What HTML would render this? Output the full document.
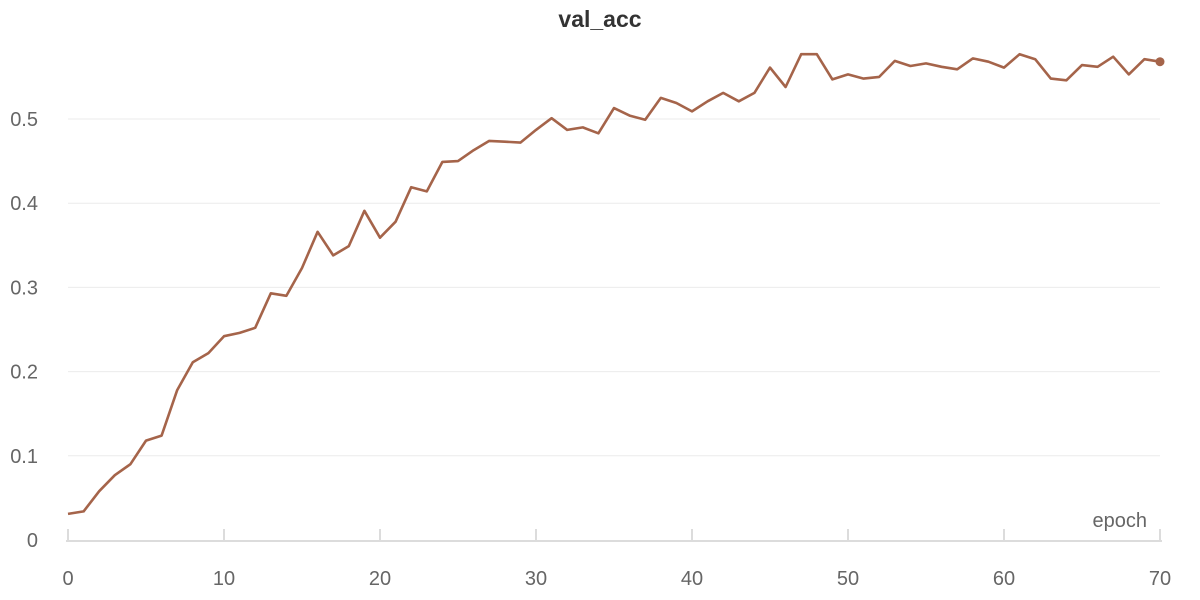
<!DOCTYPE html>
<html><head><meta charset="utf-8"><style>
body{margin:0;background:#fff;}
svg{display:block;font-family:"Liberation Sans",Arial,sans-serif;}
</style></head><body>
<svg id="chart" width="1200" height="600">
<text x="600" y="27" text-anchor="middle" font-size="23" font-weight="bold" fill="#333">val_acc</text>
<g id="grid"></g>
<g id="yaxis"></g>
<g id="xaxis"></g>
<text x="1147" y="527" text-anchor="end" font-size="20" fill="#666">epoch</text>
<g id="series"></g>
</svg>
<script>
const valAcc=[0.031,0.034,0.058,0.077,0.09,0.118,0.124,0.178,0.211,0.222,0.242,0.246,0.252,0.293,0.29,0.323,0.366,0.338,0.349,0.391,0.359,0.378,0.419,0.414,0.449,0.45,0.463,0.474,0.473,0.472,0.487,0.501,0.487,0.49,0.483,0.513,0.504,0.499,0.525,0.519,0.509,0.521,0.531,0.521,0.531,0.561,0.538,0.577,0.577,0.547,0.553,0.548,0.55,0.569,0.563,0.566,0.562,0.559,0.572,0.568,0.561,0.577,0.571,0.548,0.546,0.564,0.562,0.574,0.553,0.571,0.568];
const yTicks=[0,0.1,0.2,0.3,0.4,0.5];
const yTickLabels=["0","0.1","0.2","0.3","0.4","0.5"];
const xTicks=[0,10,20,30,40,50,60,70];
const NS="http://www.w3.org/2000/svg";
const X0=68,X1=1160,Y0=540,YPER=842;
const xs=v=>X0+(X1-X0)*v/70;
const ys=v=>Y0-YPER*v;
function mk(tag,attrs,parent){const e=document.createElementNS(NS,tag);for(const k in attrs)e.setAttribute(k,attrs[k]);parent.appendChild(e);return e;}
const grid=document.getElementById('grid'),ya=document.getElementById('yaxis'),xa=document.getElementById('xaxis'),se=document.getElementById('series');
yTicks.forEach((t,i)=>{
 if(t>0){const l=mk('line',{x1:X0,x2:X1,y1:ys(t),y2:ys(t),stroke:'#ebebeb','stroke-width':1},grid);
 
 }
 const tx=mk('text',{x:38,y:ys(t)+7,'text-anchor':'end','font-size':20,fill:'#666'},ya);
 tx.textContent=yTickLabels[i];
 
 
});
const ax=mk('line',{x1:X0-2,x2:X1+2,y1:Y0+1,y2:Y0+1,stroke:'#dcdcdc','stroke-width':2},xa);


xTicks.forEach(t=>{
 const tk=mk('line',{x1:xs(t),x2:xs(t),y1:Y0-11,y2:Y0,stroke:'#dcdcdc','stroke-width':2},xa);
 
 
 const tx=mk('text',{x:xs(t),y:585,'text-anchor':'middle','font-size':20,fill:'#666'},xa);
 tx.textContent=String(t);
 
 
});
const pts=valAcc.map((v,i)=>xs(i).toFixed(1)+','+ys(v).toFixed(1)).join(' ');
const pl=mk('polyline',{points:pts,fill:'none',stroke:'#a5644a','stroke-width':2.6,'stroke-linejoin':'round'},se);


const last=valAcc.length-1;
const dot=mk('circle',{cx:xs(last),cy:ys(valAcc[last]),r:4.5,fill:'#a5644a'},se);


</script>
</body></html>
